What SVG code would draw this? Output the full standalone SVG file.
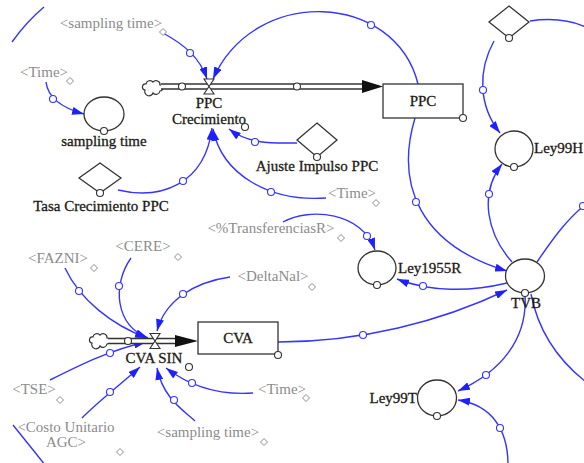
<svg xmlns="http://www.w3.org/2000/svg" xmlns:xlink="http://www.w3.org/1999/xlink" width="584" height="463" viewBox="0 0 584 463">
  <style>
    .t { font-family: "Liberation Serif", "Times New Roman", serif; font-size: 15px; fill: #1e1a14; stroke: #1e1a14; stroke-width: 0.3; text-anchor: middle; }
    .sh { fill: #8c8c8c; stroke: none; }
    .st { text-anchor: start; }
    .en { text-anchor: end; }
    .conn { fill: none; stroke: #3535ff; stroke-width: 1.4; marker-end: url(#ah); }
    .line { fill: none; stroke: #3535ff; stroke-width: 1.4; }
    .dot { fill: #fff; stroke: #3535ff; stroke-width: 1.1; }
    .odot { fill: #fff; stroke: #333; stroke-width: 1.1; }
    .aux { fill: #fff; stroke: #333; stroke-width: 1.3; }
    .box { fill: #fff; stroke: #333; stroke-width: 1.3; }
    .gd { fill: #fff; stroke: #8c8c8c; stroke-width: 1; }
    .pipeO { fill: none; stroke: #333; stroke-width: 6.5; }
    .pipeI { fill: none; stroke: #fff; stroke-width: 3.5; }
    .valve { fill: #fff; stroke: #333; stroke-width: 1.1; }
    .cloud { fill: #fff; stroke: #333; stroke-width: 1.2; }
  </style>
  <defs>
    <marker id="ah" viewBox="0 0 12 8" refX="12" refY="4" markerWidth="12" markerHeight="8" markerUnits="userSpaceOnUse" orient="auto">
      <path d="M0,0 L12,4 L0,8 z" fill="#2020ff"/>
    </marker>
    <path id="sd" d="M0,-3.5 L3.5,0 L0,3.5 L-3.5,0 z"/>
    <path id="cl" d="M-8,3 a3,3 0 0 1 1,-6 a4,4 0 0 1 7,-2 a4,4 0 0 1 7,3 a3,3 0 0 1 0,6 a4,4 0 0 1 -7,2 a4,4 0 0 1 -8,-3 z"/>
  </defs>

  <!-- information links -->
  <g id="connectors">
    <path class="line" d="M12,42 C22,28 32,17 44,7"/>
    <path class="conn" d="M163,33 C185,45 200,58 207,79"/>
    <circle class="dot" cx="190" cy="53" r="3.5"/>
    <path class="conn" d="M46,82 C48,98 62,108 84,114"/>
    <circle class="dot" cx="53" cy="99" r="3.5"/>
    <path class="conn" d="M418,84 C395,-8 255,-15 213,79"/>
    <circle class="dot" cx="371" cy="25" r="3.5"/>
    <path class="conn" d="M415,118 C395,185 420,245 507,271"/>
    <circle class="dot" cx="416" cy="202" r="3.5"/>
    <path class="conn" d="M297,143 C275,143 250,145 229,129"/>
    <circle class="dot" cx="255" cy="142" r="3.5"/>
    <path class="conn" d="M118,190 C160,200 205,185 212,128"/>
    <circle class="dot" cx="183" cy="181" r="3.5"/>
    <path class="conn" d="M326,198 C270,202 222,175 213,129"/>
    <circle class="dot" cx="271" cy="192" r="3.5"/>
    <path class="conn" d="M283,222 C310,207 362,212 375,250"/>
    <circle class="dot" cx="367" cy="236" r="3.5"/>
    <path class="conn" d="M507,283 C470,292 430,292 397,279"/>
    <circle class="dot" cx="423" cy="286" r="3.5"/>
    <path class="conn" d="M512,262 C488,235 478,195 502,164"/>
    <circle class="dot" cx="489" cy="194" r="3.5"/>
    <path class="conn" d="M494,41 C478,70 478,105 500,133"/>
    <circle class="dot" cx="483" cy="90" r="3.5"/>
    <path class="line" d="M530,21 C550,18 570,20 586,27"/>
    <path class="line" d="M537,262 C552,240 566,220 586,204"/>
    <circle class="dot" cx="583" cy="206" r="3.5"/>
    <path class="conn" d="M525,294 C528,340 500,372 458,391"/>
    <circle class="dot" cx="486" cy="375" r="3.5"/>
    <path class="line" d="M531,294 C538,330 558,360 586,382"/>
    <path class="conn" d="M508,465 C508,430 492,405 458,400"/>
    <circle class="dot" cx="500" cy="428" r="3.5"/>
    <path class="conn" d="M278,342 C360,342 440,322 507,290"/>
    <circle class="dot" cx="363" cy="335" r="3.5"/>
    <path class="conn" d="M65,268 C80,300 112,325 147,338"/>
    <circle class="dot" cx="79" cy="291" r="3.5"/>
    <path class="conn" d="M131,258 C112,285 115,325 148,338"/>
    <circle class="dot" cx="119" cy="286" r="3.5"/>
    <path class="conn" d="M230,277 C195,282 165,300 157,331"/>
    <circle class="dot" cx="183" cy="294" r="3.5"/>
    <path class="conn" d="M50,380 C80,365 110,350 146,342"/>
    <circle class="dot" cx="110" cy="353" r="3.5"/>
    <path class="conn" d="M82,418 C100,400 120,385 140,367"/>
    <circle class="dot" cx="110" cy="392" r="3.5"/>
    <path class="conn" d="M195,421 C183,410 163,398 157,368"/>
    <circle class="dot" cx="174" cy="400" r="3.5"/>
    <path class="conn" d="M253,393 C225,395 195,390 166,368"/>
    <circle class="dot" cx="192" cy="383" r="3.5"/>
    <path class="line" d="M13,425 C25,440 35,452 45,465"/>
  </g>

  <!-- PPC flow -->
  <g id="flow-ppc">
    <use href="#cl" class="cloud" transform="translate(153,87)"/>
    <path class="pipeO" d="M161,86.5 H364"/>
    <path class="pipeI" d="M161,86.5 H364"/>
    <polygon points="362,80 383,86.5 362,93" fill="#111"/>
    <circle class="odot" cx="182" cy="86.5" r="3.5"/>
    <circle class="odot" cx="297" cy="86.5" r="3.5"/>
    <path class="valve" d="M204,79 H214 L209,86.5 Z M209,86.5 L214,94 H204 Z"/>
    <text class="t" x="209" y="108">PPC</text>
    <text class="t" x="209" y="124">Crecimiento</text>
    <circle class="odot" cx="245" cy="127" r="3.5"/>
  </g>

  <g id="ppc">
    <rect class="box" x="383" y="84" width="80" height="34"/>
    <text class="t" x="423" y="106">PPC</text>
    <circle class="odot" cx="463" cy="118" r="3.5"/>
  </g>

  <g id="sampling-time-shadow-top">
    <text class="t sh" x="111" y="28">&lt;sampling time&gt;</text>
    <use href="#sd" class="gd" transform="translate(163,32)"/>
  </g>

  <g id="time-shadow-1">
    <text class="t sh" x="44" y="77">&lt;Time&gt;</text>
    <use href="#sd" class="gd" transform="translate(70,81)"/>
  </g>

  <g id="sampling-time">
    <ellipse class="aux" cx="104" cy="114" rx="20" ry="17"/>
    <circle class="odot" cx="104" cy="131" r="3.5"/>
    <text class="t" x="104" y="146">sampling time</text>
  </g>

  <g id="ajuste-impulso-ppc">
    <path class="aux" d="M317,123 L337,140 L317,157 L297,140 Z"/>
    <circle class="odot" cx="317" cy="157" r="3.5"/>
    <text class="t" x="317" y="171">Ajuste Impulso PPC</text>
  </g>

  <g id="tasa-crecimiento-ppc">
    <path class="aux" d="M100,163 L121,178 L100,193 L79,178 Z"/>
    <circle class="odot" cx="100" cy="193" r="3.5"/>
    <text class="t" x="101" y="211">Tasa Crecimiento PPC</text>
  </g>

  <g id="time-shadow-2">
    <text class="t sh" x="352" y="198">&lt;Time&gt;</text>
    <use href="#sd" class="gd" transform="translate(376,203)"/>
  </g>

  <g id="transferencias-shadow">
    <text class="t sh" x="271" y="233">&lt;%TransferenciasR&gt;</text>
    <use href="#sd" class="gd" transform="translate(341,238)"/>
  </g>

  <g id="top-constant">
    <path class="aux" d="M509,6 L529,22 L509,38 L489,22 Z"/>
    <circle class="odot" cx="509" cy="38" r="3.5"/>
  </g>

  <g id="ley99h">
    <ellipse class="aux" cx="514" cy="149" rx="19" ry="18"/>
    <circle class="odot" cx="514" cy="167" r="3.5"/>
    <text class="t st" x="534" y="153">Ley99H</text>
  </g>

  <g id="ley1955r">
    <ellipse class="aux" cx="377" cy="268" rx="19" ry="17"/>
    <circle class="odot" cx="377" cy="285" r="3.5"/>
    <text class="t st" x="398" y="273">Ley1955R</text>
  </g>

  <g id="tvb">
    <ellipse class="aux" cx="525" cy="276" rx="19.5" ry="17"/>
    <circle class="odot" cx="525" cy="293" r="3.5"/>
    <text class="t" x="526" y="308">TVB</text>
  </g>

  <g id="ley99t">
    <ellipse class="aux" cx="437" cy="398" rx="19.5" ry="18"/>
    <circle class="odot" cx="437" cy="416" r="3.5"/>
    <text class="t en" x="417" y="403">Ley99T</text>
  </g>

  <!-- CVA flow -->
  <g id="flow-cva-sin">
    <use href="#cl" class="cloud" transform="translate(100,340)"/>
    <path class="pipeO" d="M108,341 H177"/>
    <path class="pipeI" d="M108,341 H177"/>
    <polygon points="175,335 198,341 175,347" fill="#111"/>
    <circle class="odot" cx="128" cy="341" r="3.5"/>
    <path class="valve" d="M150,333.5 H160 L155,341 Z M155,341 L160,348.5 H150 Z"/>
    <text class="t" x="154" y="363">CVA SIN</text>
    <circle class="odot" cx="189" cy="367" r="3.5"/>
  </g>

  <g id="cva">
    <rect class="box" x="198" y="322" width="80" height="32"/>
    <text class="t" x="238" y="343">CVA</text>
    <circle class="odot" cx="278" cy="355" r="3.5"/>
  </g>

  <g id="fazni-shadow">
    <text class="t sh" x="58" y="263">&lt;FAZNI&gt;</text>
    <use href="#sd" class="gd" transform="translate(94,268)"/>
  </g>

  <g id="cere-shadow">
    <text class="t sh" x="143" y="251">&lt;CERE&gt;</text>
    <use href="#sd" class="gd" transform="translate(178,257)"/>
  </g>

  <g id="deltanal-shadow">
    <text class="t sh" x="273" y="281">&lt;DeltaNal&gt;</text>
    <use href="#sd" class="gd" transform="translate(312,287)"/>
  </g>

  <g id="tse-shadow">
    <text class="t sh" x="34" y="394">&lt;TSE&gt;</text>
    <use href="#sd" class="gd" transform="translate(60,400)"/>
  </g>

  <g id="costo-unitario-shadow">
    <text class="t sh" x="66" y="432">&lt;Costo Unitario</text>
    <text class="t sh" x="66" y="447">AGC&gt;</text>
    <use href="#sd" class="gd" transform="translate(120,452)"/>
  </g>

  <g id="sampling-time-shadow-bottom">
    <text class="t sh" x="208" y="437">&lt;sampling time&gt;</text>
    <use href="#sd" class="gd" transform="translate(264,442)"/>
  </g>

  <g id="time-shadow-3">
    <text class="t sh" x="282" y="394">&lt;Time&gt;</text>
    <use href="#sd" class="gd" transform="translate(306,398)"/>
  </g>
</svg>
